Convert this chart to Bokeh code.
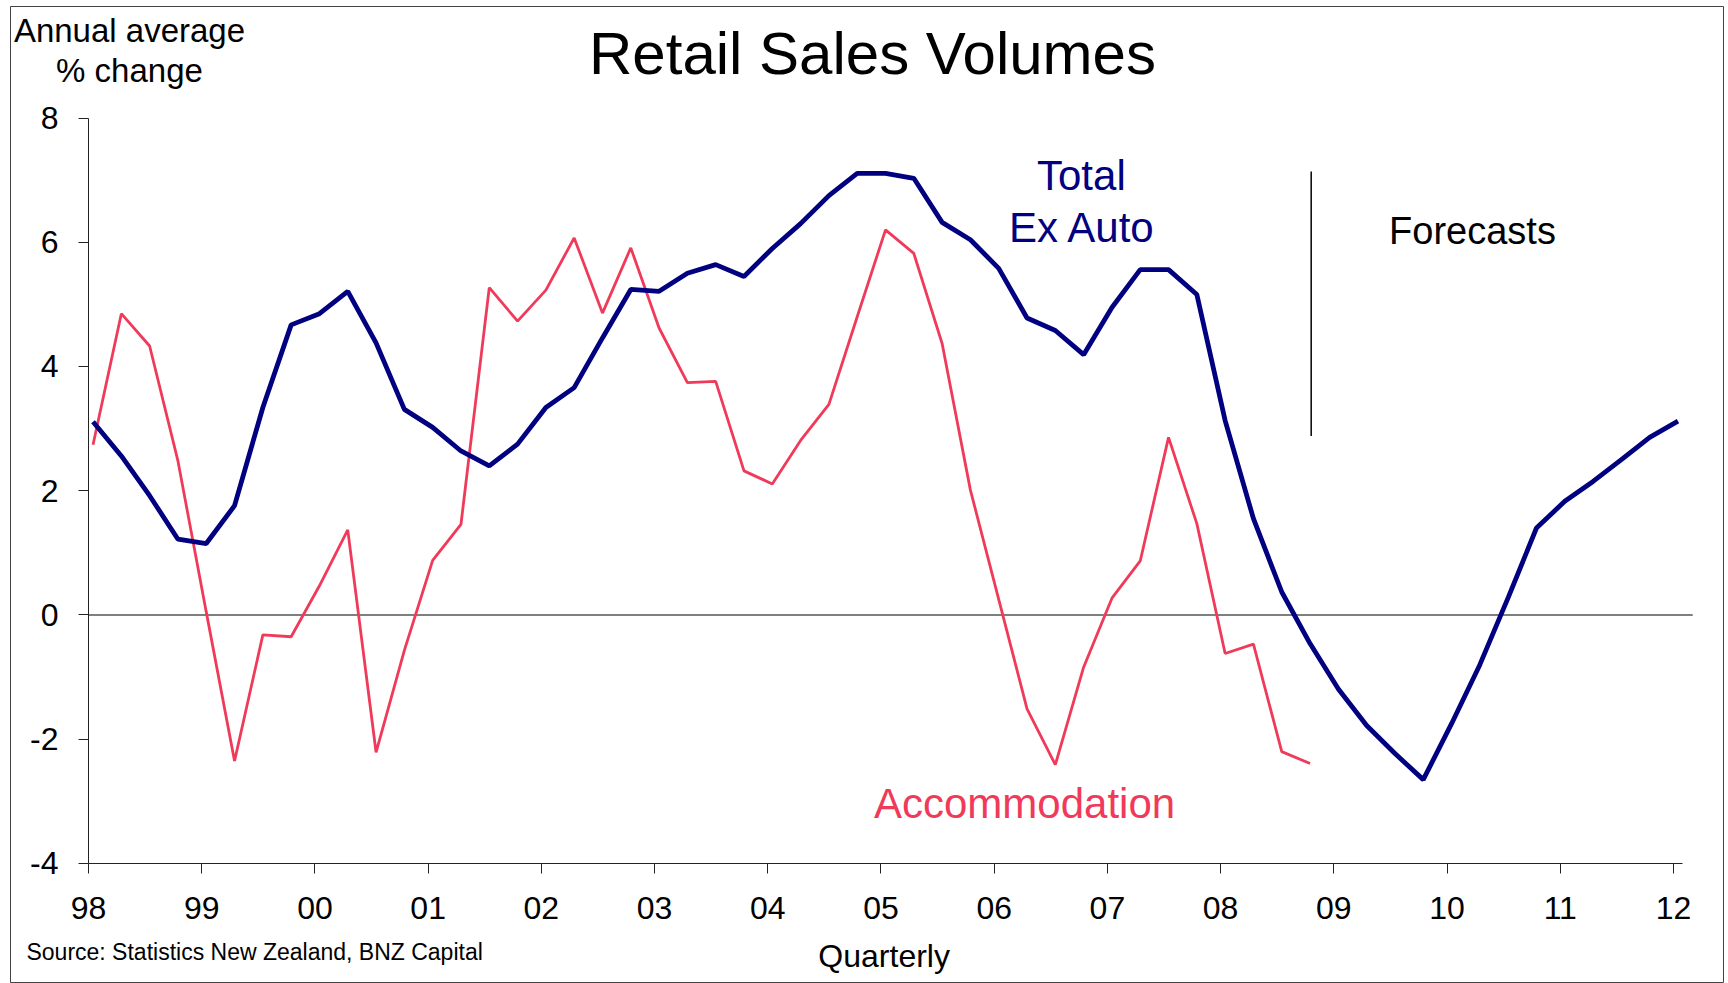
from bokeh.plotting import figure
from bokeh.models import Range1d, FixedTicker, Label
from bokeh.embed import file_html
from bokeh.resources import INLINE

# ---------------- data (annual average % change, quarterly) ----------------
first_year = 1998.04          # position of the first quarterly observation
total_ex_auto = [
    3.11, 2.56, 1.92, 1.22, 1.15, 1.76, 3.34, 4.67, 4.85, 5.21,
    4.38, 3.31, 3.02, 2.64, 2.40, 2.75, 3.34, 3.66, 4.46, 5.24,
    5.21, 5.50, 5.64, 5.45, 5.90, 6.30, 6.75, 7.11, 7.11, 7.03,
    6.32, 6.04, 5.58, 4.78, 4.58, 4.19, 4.95, 5.56, 5.56, 5.16,
    3.13, 1.55, 0.37, -0.46, -1.19, -1.78, -2.23, -2.65, -1.75, -0.80,
    0.28, 1.40, 1.83, 2.15, 2.50, 2.86, 3.12,
]
accommodation = [
    2.74, 4.85, 4.33, 2.48, 0.05, -2.35, -0.32, -0.35, 0.47, 1.37,
    -2.21, -0.57, 0.88, 1.46, 5.27, 4.73, 5.23, 6.07, 4.86, 5.91,
    4.62, 3.74, 3.76, 2.32, 2.11, 2.81, 3.39, 4.80, 6.20, 5.82,
    4.37, 2.01, 0.25, -1.51, -2.41, -0.84, 0.27, 0.87, 2.86, 1.47,
    -0.62, -0.47, -2.20, -2.39,
]
tick_years = list(range(1998, 2013))
tick_labels = ["98", "99", "00", "01", "02", "03", "04", "05", "06", "07",
               "08", "09", "10", "11", "12"]
y_ticks = [-4, -2, 0, 2, 4, 6, 8]
y_tick_labels = ["-4", "-2", "0", "2", "4", "6", "8"]
x_axis_span = (1998, 2012.08)
y_axis_span = (-4, 8)
zero_line_span = (1998, 2012.17)
forecast_start = 2008.80
forecast_line_span = (2.88, 7.14)

x_total = [first_year + 0.25 * i for i in range(len(total_ex_auto))]
x_accom = [first_year + 0.25 * i for i in range(len(accommodation))]

NAVY = "#000080"
PINK = "#F03A5A"
FONT = "Liberation Sans"

p = figure(width=1726, height=983, output_backend="svg", toolbar_location=None,
           x_range=Range1d(1997.311, 2012.442), y_range=Range1d(-5.932, 9.795),
           min_border_left=10, min_border_right=3, min_border_top=6,
           min_border_bottom=0)
p.outline_line_color = "#444444"
p.outline_line_width = 1
p.xgrid.visible = False
p.ygrid.visible = False
p.background_fill_color = "white"
p.border_fill_color = "white"

p.xaxis[0].fixed_location = y_axis_span[0]
p.yaxis[0].fixed_location = x_axis_span[0]
p.xaxis[0].bounds = x_axis_span
p.yaxis[0].bounds = y_axis_span

for ax in (p.xaxis[0], p.yaxis[0]):
    ax.axis_line_color = "#222222"
    ax.axis_line_width = 1
    ax.major_tick_line_color = "#222222"
    ax.major_tick_out = 10
    ax.major_tick_in = 0
    ax.minor_tick_line_color = None
    ax.major_label_text_font = FONT
    ax.major_label_text_font_size = "32px"
    ax.major_label_text_color = "black"

p.xaxis[0].ticker = FixedTicker(ticks=tick_years)
p.xaxis[0].major_label_overrides = {y: l for y, l in zip(tick_years, tick_labels)}
p.xaxis[0].major_label_standoff = 24
p.yaxis[0].ticker = FixedTicker(ticks=y_ticks)
p.yaxis[0].major_label_overrides = {y: l for y, l in zip(y_ticks, y_tick_labels)}
p.yaxis[0].major_label_standoff = 20

# zero line
p.segment(x0=[zero_line_span[0]], y0=[0], x1=[zero_line_span[1]], y1=[0],
          line_color="black", line_width=1.2)

p.line(x_accom, accommodation, line_color=PINK, line_width=2.8)
p.line(x_total, total_ex_auto, line_color=NAVY, line_width=4.8)

# forecast divider
p.segment(x0=[forecast_start], y0=[forecast_line_span[0]], x1=[forecast_start],
          y1=[forecast_line_span[1]], line_color="black", line_width=1.5)

def label(x, y, text, size, color="black", align="center"):
    p.add_layout(Label(x=x, y=y, text=text, text_font=FONT, text_font_size=size,
                       text_color=color, text_align=align,
                       text_baseline="alphabetic"))

label(2004.925, 9.034, "Retail Sales Volumes", "60px")
label(1998.362, 9.408, "Annual average", "33px")
label(1998.362, 8.765, "% change", "33px")
label(2006.77, 7.068, "Total", "42px", NAVY)
label(2006.78, 6.242, "Ex Auto", "42px", NAVY)
label(2010.225, 6.186, "Forecasts", "38px")
label(2006.268, -3.031, "Accommodation", "42px", PINK)
label(2005.028, -5.495, "Quarterly", "32px")
label(1997.452, -5.426, "Source: Statistics New Zealand, BNZ Capital", "23px", align="left")

open("out.html", "w").write(file_html(p, INLINE))
